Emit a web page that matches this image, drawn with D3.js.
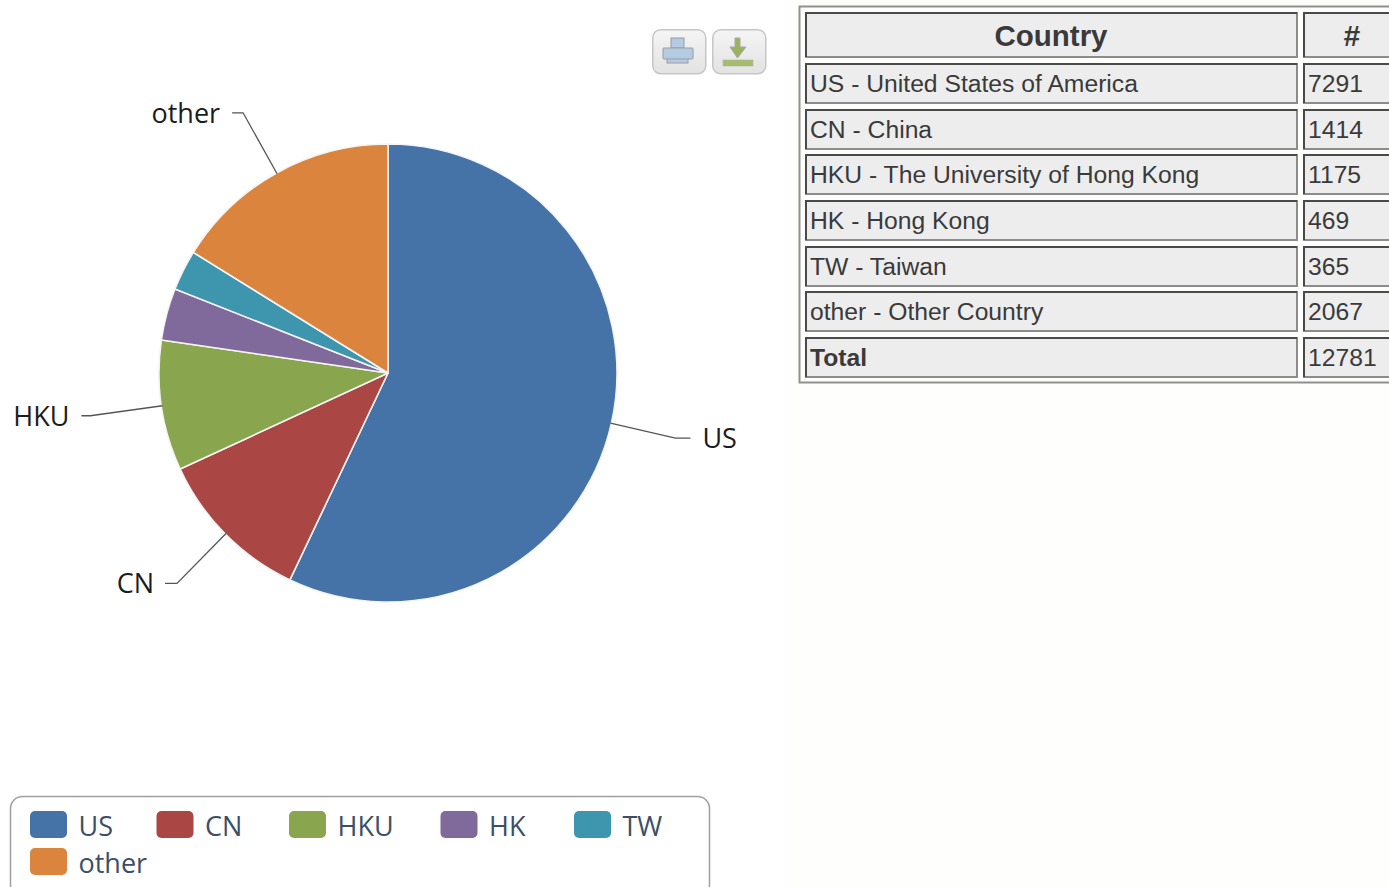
<!DOCTYPE html>
<html>
<head>
<meta charset="utf-8">
<script src="https://cdn.jsdelivr.net/npm/d3@7"></script>
<style>
  html, body { margin: 0; padding: 0; background: #fefefc; overflow: hidden; }
  svg { display: block; }
  .lbl { font-family: "Open Sans", sans-serif; fill: #1c1c1c; }
  .leg { font-family: "Open Sans", sans-serif; fill: #3d4f66; }
  .cell { font-family: "Liberation Sans", Arial, sans-serif; fill: #3a3a3a; }
</style>
</head>
<body>
<svg id="chart" width="1389" height="887"></svg>
<script>
// values
var codes = ['US', 'CN', 'HKU', 'HK', 'TW', 'other'];
var names = ['United States of America', 'China', 'The University of Hong Kong', 'Hong Kong', 'Taiwan', 'Other Country'];
var counts = [7291, 1414, 1175, 469, 365, 2067];
var totalCount = 12781;
var colors = ['#4572a7', '#aa4643', '#89a54e', '#80699b', '#3d96ae', '#db843d'];
var labelled = ['US', 'CN', 'HKU', 'other'];

var svg = d3.select('#chart');

var grad = svg.append('defs').append('linearGradient').attr('id', 'btn')
  .attr('x1', 0).attr('y1', 0).attr('x2', 0).attr('y2', 1);
grad.append('stop').attr('offset', 0).attr('stop-color', '#f5f5f5');
grad.append('stop').attr('offset', 1).attr('stop-color', '#e2e2e2');

// white chart panel on the left, page is very slightly off white
svg.append('rect').attr('width', 785).attr('height', 887).attr('fill', '#fff');

// pie
var cx = 388, cy = 373, radius = 229;
var pie = d3.pie().sort(null).value(function(d) { return d; });
var arc = d3.arc().innerRadius(0).outerRadius(radius);
var arcs = pie(counts);

var g = svg.append('g').attr('transform', 'translate(' + cx + ',' + cy + ')');
g.selectAll('path.slice').data(arcs).enter().append('path')
  .attr('class', 'slice')
  .attr('d', arc)
  .attr('fill', function(d, i) { return colors[i]; })
  .attr('stroke', '#f4f4f4')
  .attr('stroke-width', 1.6)
  .attr('stroke-linejoin', 'round');

// connectors + labels, offsets are from the slice edge
var connectors = {
  US:    { elbow: [65, 15],  tail: 15,  text: 12, anchor: 'start', dy: 10 },
  CN:    { elbow: [-49, 50], tail: -12, text: -11, anchor: 'end', dy: 10 },
  HKU:   { elbow: [-72, 10], tail: -9,  text: -12, anchor: 'end', dy: 10 },
  other: { elbow: [-34, -61], tail: -11, text: -12, anchor: 'end', dy: 10 }
};
arcs.forEach(function(d, i) {
  var code = codes[i];
  if (labelled.indexOf(code) < 0) return;
  var c = connectors[code];
  var mid = (d.startAngle + d.endAngle) / 2;
  var p0 = d3.pointRadial(mid, radius - 1);
  var p1 = [p0[0] + c.elbow[0], p0[1] + c.elbow[1]];
  var p2 = [p1[0] + c.tail, p1[1]];
  g.append('path')
    .attr('d', d3.line()([p0, p1, p2]))
    .attr('fill', 'none')
    .attr('stroke', '#555')
    .attr('stroke-width', 1.3);
  g.append('text')
    .attr('class', 'lbl')
    .attr('x', p2[0] + c.text)
    .attr('y', p2[1] + c.dy)
    .attr('text-anchor', c.anchor)
    .attr('font-size', 27)
    .text(code);
});

// print / export buttons
function button(x) {
  var b = svg.append('g').attr('transform', 'translate(' + x + ',29)');
  b.append('rect').attr('x', 0.75).attr('y', 0.75).attr('width', 53).attr('height', 44).attr('rx', 8)
    .attr('fill', 'url(#btn)').attr('stroke', '#c6c6c6').attr('stroke-width', 1.5);
  return b;
}
var iconBlue = '#b3cbe3', iconEdge = '#9c9c9c';
var pr = button(652);
pr.append('rect').attr('x', 19).attr('y', 9).attr('width', 13).attr('height', 10).attr('fill', iconBlue).attr('stroke', iconEdge);
pr.append('rect').attr('x', 15).attr('y', 27).attr('width', 21).attr('height', 7).attr('fill', iconBlue).attr('stroke', iconEdge);
pr.append('rect').attr('x', 11).attr('y', 19).attr('width', 30).attr('height', 11).attr('rx', 1).attr('fill', iconBlue).attr('stroke', iconEdge);
var ex = button(712);
ex.append('path').attr('d', d3.line()([[23, 9], [28, 9], [28, 18], [34, 18], [25.5, 29], [18, 18], [23, 18], [23, 9]]))
  .attr('fill', '#9ab35e').attr('stroke', '#a9a9a9');
ex.append('rect').attr('x', 11).attr('y', 31).attr('width', 30).attr('height', 6).attr('fill', '#a4bc6c').attr('stroke', '#b5b5a5').attr('stroke-width', 0.6);

// legend
svg.append('rect').attr('x', 10.5).attr('y', 796.5).attr('width', 699).attr('height', 100).attr('rx', 12)
  .attr('fill', '#fff').attr('stroke', '#a0a0a0').attr('stroke-width', 1.5);
var legendX = [30, 156.5, 289, 440.5, 574, 30];
var legendY = [811, 811, 811, 811, 811, 848];
var leg = svg.selectAll('g.legend').data(codes).enter().append('g').attr('class', 'legend')
  .attr('transform', function(d, i) { return 'translate(' + legendX[i] + ',' + legendY[i] + ')'; });
leg.append('rect').attr('width', 37).attr('height', 27).attr('rx', 5)
  .attr('fill', function(d, i) { return colors[i]; });
leg.append('text').attr('class', 'leg').attr('x', 48.5).attr('y', 25).attr('font-size', 27).text(function(d) { return d; });

// table
var rowNames = codes.map(function(c, i) { return c + ' - ' + names[i]; }).concat(['Total']);
var rowCounts = counts.concat([totalCount]);
var rowTop = [64, 110, 155, 201, 247, 292, 338];
var rowH = 39;
var col1 = 806, col1W = 491, col2 = 1304, col2W = 110;

svg.append('rect').attr('x', 799.5).attr('y', 6.5).attr('width', 640).attr('height', 376)
  .attr('fill', '#fefefc').attr('stroke', '#8f8f8f').attr('stroke-width', 2);

// inset look: dark top and left edges, grey bottom and right
function cell(x, y, w, h) {
  svg.append('rect').attr('x', x).attr('y', y).attr('width', w).attr('height', h)
    .attr('fill', '#ededed').attr('stroke', '#8c8c8c').attr('stroke-width', 2);
  svg.append('path').attr('d', d3.line()([[x, y + h], [x, y], [x + w, y]]))
    .attr('fill', 'none').attr('stroke', '#4a4a4a').attr('stroke-width', 2);
}
cell(col1, 13, col1W, 44);
cell(col2, 13, col2W, 44);
svg.append('text').attr('class', 'cell').attr('x', 1051).attr('y', 46).attr('text-anchor', 'middle')
  .attr('font-size', 29.5).attr('font-weight', 'bold').text('Country');
svg.append('text').attr('class', 'cell').attr('x', 1352).attr('y', 46).attr('text-anchor', 'middle')
  .attr('font-size', 29.5).attr('font-weight', 'bold').text('#');

rowNames.forEach(function(name, i) {
  cell(col1, rowTop[i], col1W, rowH);
  cell(col2, rowTop[i], col2W, rowH);
  svg.append('text').attr('class', 'cell').attr('x', col1 + 4).attr('y', rowTop[i] + 28)
    .attr('font-size', 24.7).attr('font-weight', i == 6 ? 'bold' : 'normal').text(name);
  svg.append('text').attr('class', 'cell').attr('x', col2 + 4).attr('y', rowTop[i] + 28)
    .attr('font-size', 24.7).text(rowCounts[i]);
});
</script>
</body>
</html>
